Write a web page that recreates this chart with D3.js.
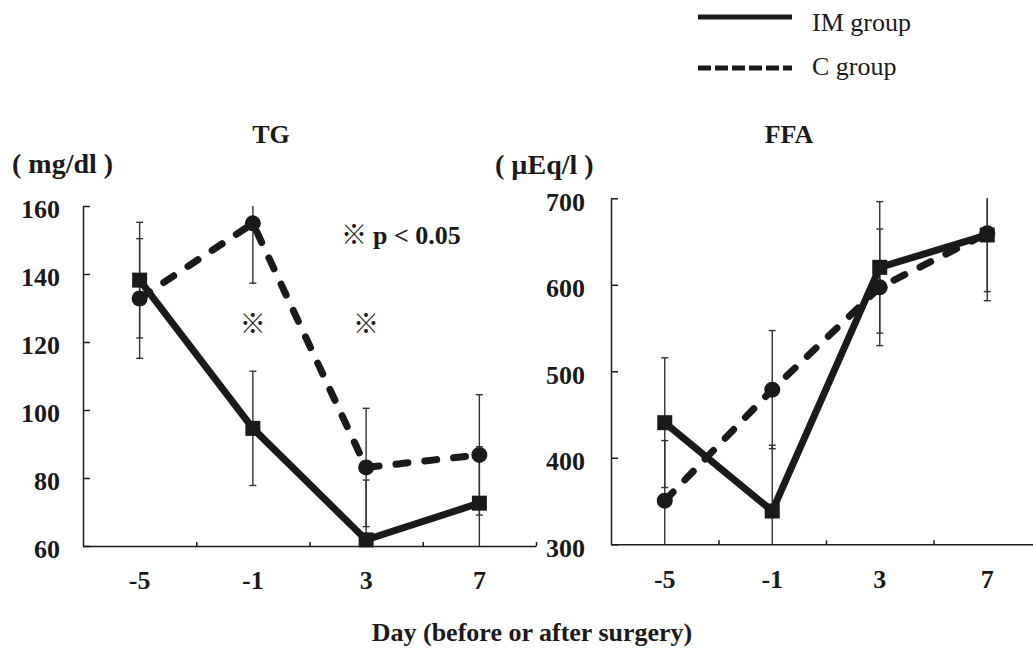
<!DOCTYPE html>
<html><head><meta charset="utf-8">
<script src="https://cdn.jsdelivr.net/npm/d3@7/dist/d3.min.js"></script>
<style>
body{margin:0;background:#fff;}
text{font-family:"Liberation Serif","Times New Roman",serif;fill:#1a1a1a;}
.b{font-weight:bold;}
.ref{font-family:"Noto Sans CJK JP",sans-serif;font-weight:normal;}
</style></head>
<body>
<svg id="c" width="1033" height="649"></svg>
<script>
const days = ["-5","-1","3","7"];
const tgIM = [138.2, 94.6, 61.8, 72.6];
const tgIMsd = [17.0, 16.8, 17.6, 16.6];
const tgC = [132.8, 154.9, 83.1, 86.8];
const tgCsd = [17.6, 17.6, 17.4, 17.7];
const ffaIM = [440.6, 338.5, 620.2, 657.6];
const ffaIMsd = [75, 76, 76, 76];
const ffaC = [350.4, 478.8, 597.1, 659.5];
const ffaCsd = [69.5, 68.3, 67.4, 67.4];
const tgTicks = [60, 80, 100, 120, 140, 160];
const ffaTicks = [300, 400, 500, 600, 700];
const sigDays = ["-1", "3"];
const seriesNames = ["IM group", "C group"];

const svg = d3.select("#c");
const INK = "#1a1a1a";

function panel(cfg){
  const g = svg.append("g");
  const x = d3.scaleBand().domain(days).range([cfg.x0, cfg.x1]).paddingInner(0).paddingOuter(0);
  const xl = d3.scaleLinear().domain([0, days.length]).range([cfg.x0, cfg.x1]);
  const y = d3.scaleLinear().domain([cfg.ticks[0], cfg.ticks[cfg.ticks.length-1]]).range([cfg.y0, cfg.y1]);
  const cx = d => x(d) + x.bandwidth()/2;

  // y axis
  const ya = g.append("g").attr("transform", `translate(${cfg.x0},0)`)
    .call(d3.axisLeft(y).tickValues(cfg.ticks).tickSizeInner(-7).tickSizeOuter(0).tickPadding(cfg.ypad));
  ya.select(".domain").attr("stroke", INK).attr("stroke-width", 1.5);
  ya.selectAll(".tick line").attr("stroke", INK).attr("stroke-width", 1.5);
  ya.selectAll(".tick text").attr("class","b").style("font-size","26px").attr("dy","0.45em")
    .style("font-family",'"Liberation Serif",serif').attr("fill", INK);

  // x axis boundary ticks
  const xa = g.append("g").attr("transform", `translate(0,${cfg.y0})`)
    .call(d3.axisBottom(xl).tickValues(d3.range(1, days.length+1)).tickSizeInner(-4).tickSizeOuter(0).tickFormat(""));
  xa.select(".domain").attr("stroke", INK).attr("stroke-width", 1.5);
  xa.selectAll(".tick line").attr("stroke", INK).attr("stroke-width", 1.5);
  // x labels
  const xb = g.append("g").attr("transform", `translate(0,${cfg.y0})`)
    .call(d3.axisBottom(x).tickSize(0).tickPadding(25));
  xb.select(".domain").remove();
  xb.selectAll(".tick text").attr("class","b").style("font-size","26px")
    .style("font-family",'"Liberation Serif",serif').attr("fill", INK);

  const [lo, hi] = y.domain();
  const clamp = v => Math.max(lo, Math.min(hi, v));
  function errbars(vals, sds){
    days.forEach((d,i)=>{
      const top = vals[i]+sds[i], bot = vals[i]-sds[i];
      g.append("line").attr("x1",cx(d)).attr("x2",cx(d))
        .attr("y1",y(clamp(top))).attr("y2",y(clamp(bot)))
        .attr("stroke","#333").attr("stroke-width",1.4);
      [top,bot].forEach(v=>{ if(v<=hi && v>=lo)
        g.append("line").attr("x1",cx(d)-3.5).attr("x2",cx(d)+3.5)
          .attr("y1",y(v)).attr("y2",y(v)).attr("stroke","#333").attr("stroke-width",1.4); });
    });
  }
  errbars(cfg.im, cfg.imsd);
  errbars(cfg.c, cfg.csd);

  const line = d3.line().x((v,i)=>cx(days[i])).y(v=>y(v));
  g.append("path").datum(cfg.c).attr("d", line).attr("fill","none").attr("stroke",INK)
    .attr("stroke-width",7).attr("stroke-linecap","round").attr("stroke-dasharray","12,17");
  g.append("path").datum(cfg.im).attr("d", line).attr("fill","none").attr("stroke",INK)
    .attr("stroke-width",7).attr("stroke-linejoin","miter");

  g.selectAll(".dot").data(cfg.c).join("circle").attr("cx",(v,i)=>cx(days[i])).attr("cy",v=>y(v))
    .attr("r",8).attr("fill",INK);
  g.selectAll(".sq").data(cfg.im).join("rect").attr("x",(v,i)=>cx(days[i])-7.5).attr("y",v=>y(v)-7.5)
    .attr("width",15).attr("height",15).attr("fill",INK);

  // title and unit
  svg.append("text").attr("class","b").attr("x",cfg.tx).attr("y",143).attr("text-anchor","middle")
    .style("font-size","26px").text(cfg.title);
  svg.append("text").attr("class","b").attr("x",cfg.ux).attr("y",cfg.uy)
    .style("font-size","28px").attr("xml:space","preserve").text(cfg.unit);
  return {x, y, cx, g};
}

const left = panel({x0:83, x1:536, y0:546, y1:206, ticks:tgTicks, im:tgIM, imsd:tgIMsd, c:tgC, csd:tgCsd,
  title:"TG", tx:271, unit:"( mg/dl )", ux:12, uy:173, ypad:23});
const right = panel({x0:611, x1:1041, y0:544.3, y1:198.3, ticks:ffaTicks, im:ffaIM, imsd:ffaIMsd, c:ffaC, csd:ffaCsd,
  title:"FFA", tx:789, unit:"( µEq/l )", ux:495, uy:174, ypad:26});

// significance marks
sigDays.forEach(d=>{
  svg.append("text").attr("class","ref").attr("x", left.cx(d)).attr("y", 333)
    .attr("text-anchor","middle").style("font-size","26px").text("※");
});
const pt = svg.append("text").attr("x",341).attr("y",244).style("font-size","26px");
pt.append("tspan").attr("class","ref").text("※");
pt.append("tspan").attr("class","b").attr("dx",6).text("p < 0.05");

// legend
const lg = svg.append("g");
lg.append("line").attr("x1",698).attr("x2",792).attr("y1",17).attr("y2",17)
  .attr("stroke",INK).attr("stroke-width",5);
lg.append("line").attr("x1",698).attr("x2",792).attr("y1",68).attr("y2",68)
  .attr("stroke",INK).attr("stroke-width",5).attr("stroke-dasharray","13,4");
lg.append("text").attr("x",812).attr("y",31).style("font-size","26px").text(seriesNames[0]);
lg.append("text").attr("x",812).attr("y",75).style("font-size","26px").text(seriesNames[1]);

// x axis title
svg.append("text").attr("class","b").attr("x",532).attr("y",641).attr("text-anchor","middle")
  .style("font-size","26px").text("Day (before or after surgery)");
</script>
</body></html>
